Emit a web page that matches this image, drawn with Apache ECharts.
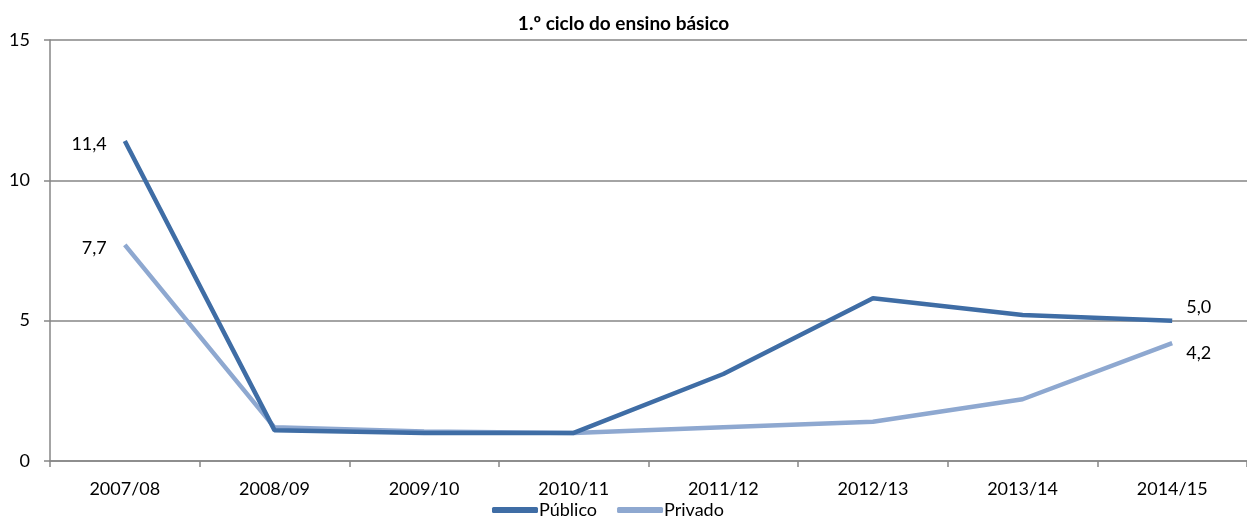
<!DOCTYPE html>
<html><head><meta charset="utf-8">
<script src="https://cdn.jsdelivr.net/npm/echarts@6/dist/echarts.min.js"></script>
<style>html,body{margin:0;padding:0;background:#fff}#c{width:1247px;height:520px}</style>
</head><body><div id="c"></div>
<script>
var categories = ['2007/08','2008/09','2009/10','2010/11','2011/12','2012/13','2013/14','2014/15'];
var publico = [11.4, 1.1, 1.0, 1.0, 3.1, 5.8, 5.2, 5.0];
var privado = [7.7, 1.2, 1.05, 1.0, 1.2, 1.4, 2.2, 4.2];
var yTicks = [0, 5, 10, 15];
var titleText = '1.º ciclo do ensino básico';
var seriesNames = ['Público', 'Privado'];

var FONT = 'Lato';
function fmt(p){ return p.value.toFixed(1).replace('.', ','); }
function withLabels(data, cfg){
  return data.map(function(v,i){
    if (!cfg[i]) return v;
    var c = cfg[i];
    return {value: v, label: {show: true, position: c.pos, distance: c.dist, offset: c.off,
      fontFamily: FONT, fontSize: 18, color: '#000', formatter: fmt}};
  });
}
var chart = echarts.init(document.getElementById('c'), null, {renderer:'canvas'});
chart.setOption({
  animation: false,
  backgroundColor: '#fff',
  title: {text: titleText, left: 'center', top: 14, padding: 0,
    textStyle: {fontFamily: FONT, fontSize: 19, fontWeight: 'bold', color: '#000'}},
  grid: {left: 50, top: 40, width: 1200, height: 421, containLabel: false},
  legend: {
    data: seriesNames, bottom: 1, left: 492, itemWidth: 46, itemHeight: 6, itemGap: 20,
    icon: 'roundRect', padding: 0,
    textStyle: {fontFamily: FONT, fontSize: 18, color: '#000', padding: [0,0,0,-4]}
  },
  xAxis: {
    type: 'category', data: categories, boundaryGap: true,
    axisLine: {lineStyle: {color: '#868686', width: 1.5}},
    axisTick: {show: true, length: 6, lineStyle: {color: '#868686', width: 1.5}},
    axisLabel: {fontFamily: FONT, fontSize: 18, color: '#000', margin: 19}
  },
  yAxis: {
    type: 'value', min: 0, max: 15, interval: 5,
    axisLine: {show: true, lineStyle: {color: '#868686', width: 1.5}},
    axisTick: {show: true, length: 6, lineStyle: {color: '#868686', width: 1.5}},
    splitLine: {lineStyle: {color: '#868686', width: 1.5}},
    axisLabel: {fontFamily: FONT, fontSize: 18, color: '#000', margin: 20,
      formatter: function(v){ return yTicks.indexOf(v) >= 0 ? String(v) : ''; }}
  },
  series: [
    {name: seriesNames[0], type: 'line',
     data: withLabels(publico, {0: {pos:'left', dist:18, off:[0,3]}, 7: {pos:'right', dist:14, off:[0,-13]}}),
     symbol: 'circle', symbolSize: 0, showSymbol: true,
     lineStyle: {width: 4.5, color: '#3F6DA5'}, itemStyle: {color: '#3F6DA5'}, z: 3},
    {name: seriesNames[1], type: 'line',
     data: withLabels(privado, {0: {pos:'left', dist:18, off:[0,3]}, 7: {pos:'right', dist:14, off:[0,10]}}),
     symbol: 'circle', symbolSize: 0, showSymbol: true,
     lineStyle: {width: 4.5, color: '#8EA8D0'}, itemStyle: {color: '#8EA8D0'}, z: 2}
  ]
});
</script></body></html>
